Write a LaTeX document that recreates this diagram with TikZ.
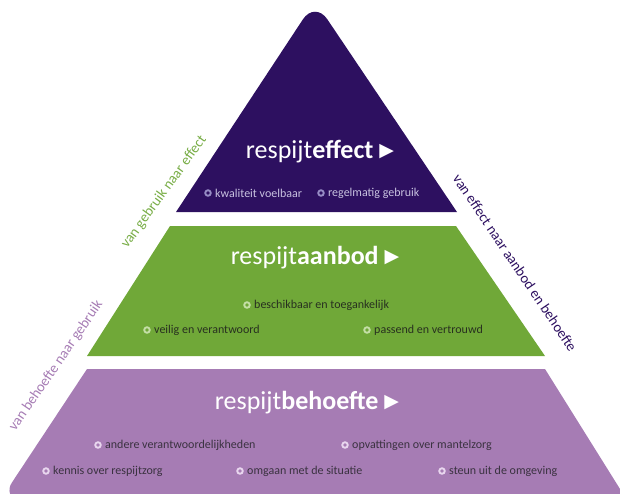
\documentclass[tikz,border=0pt]{standalone}
\usepackage{fontspec}
\setmainfont{Carlito}
\newfontfamily\symfont{DejaVu Sans}
\definecolor{pdark}{RGB}{45,16,96}
\definecolor{pgreen}{RGB}{112,168,56}
\definecolor{plilac}{RGB}{166,124,180}
\definecolor{ringP}{RGB}{150,140,196}
\definecolor{ringG}{RGB}{196,222,166}
\definecolor{ringL}{RGB}{232,214,238}
\definecolor{txtP}{RGB}{200,194,224}
\definecolor{txtG}{RGB}{40,48,32}
\definecolor{txtL}{RGB}{58,50,64}
\definecolor{lblG}{RGB}{120,173,70}
\tikzset{
  title/.style={text=white,inner sep=0pt,font=\fontsize{26}{30}\selectfont},
  itembox/.style={anchor=west,inner sep=0pt,font=\fontsize{12}{14}\selectfont},
  itemP/.style={itembox,text=txtP},
  itemG/.style={itembox,text=txtG},
  itemL/.style={itembox,text=txtL},
  bulbox/.style={circle,inner sep=0pt,minimum size=5.5pt,line width=1.9pt},
  bulP/.style={bulbox,draw=ringP,fill=pdark},
  bulG/.style={bulbox,draw=ringG,fill=pgreen},
  bulL/.style={bulbox,draw=ringL,fill=plilac},
  side/.style={inner sep=0pt,font=\fontsize{14.5}{16}\selectfont}
}
\newcommand\arrowglyph{\hspace{6pt}\raisebox{2.5pt}{\symfont\fontsize{19}{19}\selectfont ▶}}
\begin{document}
\begin{tikzpicture}[x=1pt,y=-1pt]
\useasboundingbox (0,0) rectangle (620,493);
\clip (0,0) rectangle (620,493);
% layers
\fill[pdark] (176,212) [rounded corners=22pt] -- (315,1) [sharp corners] -- (457,212) -- cycle;
\fill[pgreen] (170,226) -- (456,226) -- (545,356) -- (87,356) -- cycle;
\fill[plilac] (87,369) -- (545,369) -- (630,505) -- (30,505) [rounded corners=16pt] -- (3,496) [sharp corners] -- cycle;
% titles
\node[title] (t1) at (320,152) {respijt\textbf{effect}\arrowglyph};
\node[title] (t2) at (315,258) {respijt\textbf{aanbod}\arrowglyph};
\node[title] (t3) at (307,403) {respijt\textbf{behoefte}\arrowglyph};
% purple items
\node[itemP] (e1) at (215,193) {kwaliteit voelbaar};
\node[itemP] (e2) at (328,193) {regelmatig gebruik};
\node[bulP] (be1) at ([xshift=-7pt]e1.west) {};
\node[bulP] (be2) at ([xshift=-7pt]e2.west) {};
% green items
\node[itemG] (a1) at (254,305) {beschikbaar en toegankelijk};
\node[itemG] (a2) at (154,330) {veilig en verantwoord};
\node[itemG] (a3) at (374,330) {passend en vertrouwd};
\node[bulG] (ba1) at ([xshift=-7pt]a1.west) {};
\node[bulG] (ba2) at ([xshift=-7pt]a2.west) {};
\node[bulG] (ba3) at ([xshift=-7pt]a3.west) {};
% lilac items
\node[itemL] (b1) at (105,445) {andere verantwoordelijkheden};
\node[itemL] (b2) at (352,445) {opvattingen over mantelzorg};
\node[itemL] (b3) at (53,471) {kennis over respijtzorg};
\node[itemL] (b4) at (247,471) {omgaan met de situatie};
\node[itemL] (b5) at (449,471) {steun uit de omgeving};
\node[bulL] (bb1) at ([xshift=-7pt]b1.west) {};
\node[bulL] (bb2) at ([xshift=-7pt]b2.west) {};
\node[bulL] (bb3) at ([xshift=-7pt]b3.west) {};
\node[bulL] (bb4) at ([xshift=-7pt]b4.west) {};
\node[bulL] (bb5) at ([xshift=-7pt]b5.west) {};
% side labels
\node[side,text=lblG,rotate=54] (s1) at (164,192) {van gebruik naar effect};
\node[side,text=pdark,rotate=-56] (s2) at (515,263) {van effect naar aanbod en behoefte};
\node[side,text=plilac,rotate=55.5] (s3) at (56,366) {van behoefte naar gebruik};
\end{tikzpicture}
\end{document}
